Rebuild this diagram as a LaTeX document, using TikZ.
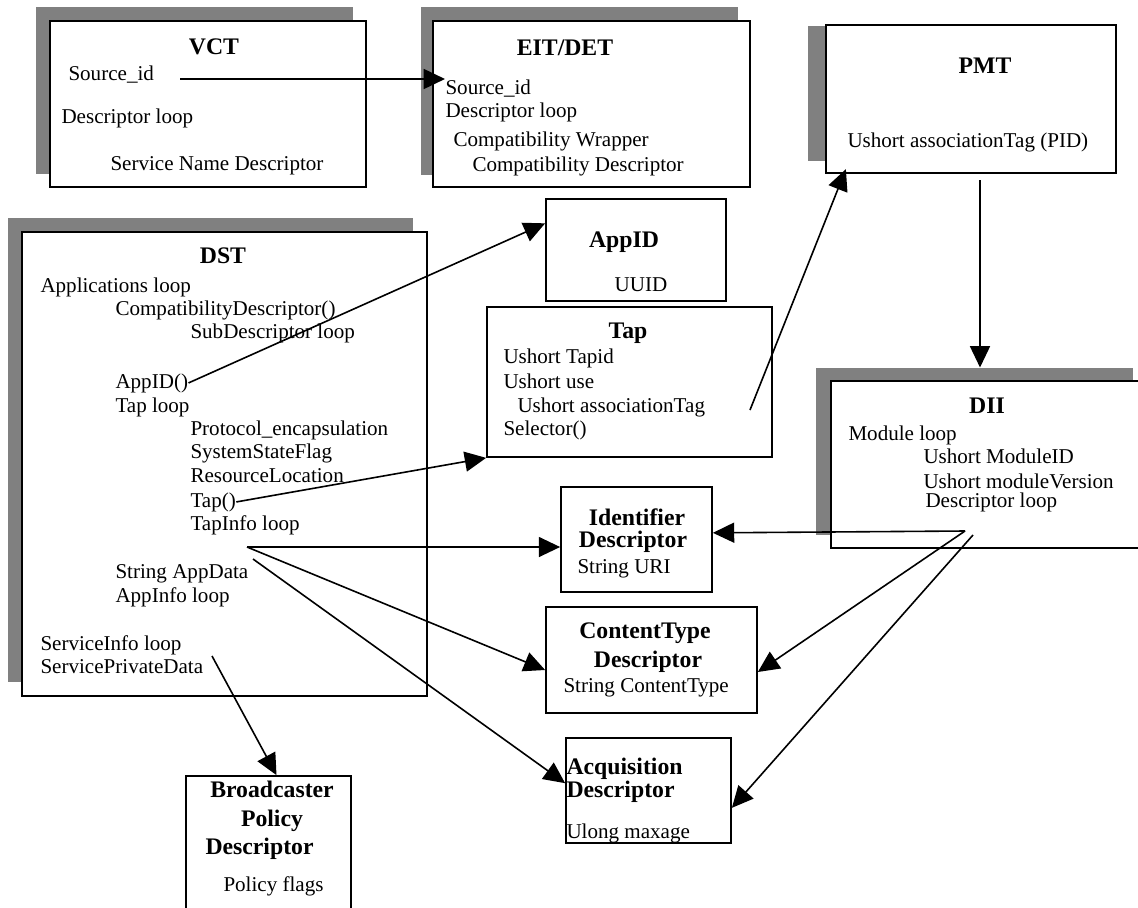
\documentclass[tikz,border=0pt]{standalone}
\usepackage{fontspec}
\setmainfont{Liberation Serif}
\usetikzlibrary{arrows.meta,fit}

\newcommand{\tblfont}{\fontsize{15.8}{18}\selectfont}
\newcommand{\hdfont}{\fontsize{17.8}{20}\selectfont\bfseries}
\tikzset{every picture/.style={line width=0.75pt}}
\tikzset{
  tblbox/.style={draw, line width=2.2pt, fill=white, inner sep=0pt},
  subbox/.style={draw, line width=1.3pt, fill=white, inner sep=0pt},
  shadowbox/.style={fill=black!50, inner sep=0pt},
  txt/.style={anchor=base west, inner sep=0pt, font=\tblfont},
  boldtxt/.style={txt, font=\hdfont},
  ctr/.style={anchor=base, inner sep=0pt, font=\tblfont},
  ttl/.style={ctr, font=\hdfont},
  link/.style={line width=1.2pt, -{Triangle[length=16pt,width=15pt]}}
}

\begin{document}
\begin{tikzpicture}[x=0.75pt,y=0.75pt,yscale=-1,xscale=1]
\useasboundingbox (0,0) rectangle (1138,907);

%Shadows
\node[shadowbox, fit={(36,7) (353,174)}] (vctsh) {};
\node[shadowbox, fit={(421,7) (738,175)}] (eitsh) {};
\node[shadowbox, fit={(808,26) (1100,161)}] (pmtsh) {};
\node[shadowbox, fit={(8,218) (413,682)}] (dstsh) {};
\node[shadowbox, fit={(816,368) (1133,535)}] (diish) {};

%Tables
\node[tblbox, fit={(50,21) (366,187)}] (vct) {};
\node[tblbox, fit={(433,21) (750,187)}] (eit) {};
\node[tblbox, fit={(826,25) (1116,173)}] (pmt) {};
\node[tblbox, fit={(22,232) (427,696)}] (dst) {};
\node[tblbox, fit={(831,381) (1145,548)}] (dii) {};

%Structures
\node[subbox, fit={(546,199) (726,301)}] (appid) {};
\node[subbox, fit={(487,307) (772,457)}] (tap) {};
\node[subbox, fit={(561,487) (712,592)}] (idd) {};
\node[subbox, fit={(546,607) (757,713)}] (ctd) {};
\node[subbox, fit={(566,738) (731,843)}] (acq) {};
\node[subbox, fit={(186,776) (351,920)}] (bpd) {};

% VCT
\node[ttl] (vcttitle) at (214,54) {VCT};
\node[txt] (vctsrc) at (68,80) {Source\_id};
\node[txt] (vctloop) at (61,123) {Descriptor loop};
\node[txt] (vctsnd) at (110,170) {Service Name Descriptor};

% EIT/DET
\node[ttl] (eittitle) at (565,55) {EIT/DET};
\node[txt] (eitsrc) at (445,94) {Source\_id};
\node[txt] (eitloop) at (445,117) {Descriptor loop};
\node[txt] (eitwrap) at (453,146) {Compatibility Wrapper};
\node[txt] (eitcd) at (472,171) {Compatibility Descriptor};

% PMT
\node[ttl] (pmttitle) at (985,73) {PMT};
\node[txt] (pmttag) at (847,147) {Ushort associationTag (PID)};

% AppID
\node[ttl] (appidtitle) at (624,247) {AppID};
\node[ctr] (uuid) at (641,291) {UUID};

% Tap
\node[ttl] (taptitle) at (628,338) {Tap};
\node[txt] (tapid) at (503,363) {Ushort Tapid};
\node[txt] (tapuse) at (503,388) {Ushort use};
\node[txt] (taptag) at (517,412) {Ushort associationTag};
\node[txt] (tapsel) at (503,435) {Selector()};

% DII
\node[ttl] (diititle) at (987,413) {DII};
\node[txt] (diimod) at (848,440) {Module loop};
\node[txt] (diiid) at (923,463) {Ushort ModuleID};
\node[txt] (diiver) at (923,488) {Ushort moduleVersion};
\node[txt] (diiloop) at (925,507) {Descriptor loop};

% DST
\node[ttl] (dsttitle) at (223,263) {DST};
\node[txt] (dstapps) at (40,292) {Applications loop};
\node[txt] (dstcompat) at (115,315) {CompatibilityDescriptor()};
\node[txt] (dstsub) at (190,338) {SubDescriptor loop};
\node[txt] (dstappid) at (115,388) {AppID()};
\node[txt] (dsttaploop) at (115,412) {Tap loop};
\node[txt] (dstproto) at (190,435) {Protocol\_encapsulation};
\node[txt] (dstflag) at (190,458) {SystemStateFlag};
\node[txt] (dstres) at (190,482) {ResourceLocation};
\node[txt] (dsttap) at (190,507) {Tap()};
\node[txt] (dsttapinfo) at (190,530) {TapInfo loop};
\node[txt] (dstappdata) at (115,578) {String AppData};
\node[txt] (dstappinfo) at (115,602) {AppInfo loop};
\node[txt] (dstsvcinfo) at (40,650) {ServiceInfo loop};
\node[txt] (dstspd) at (40,673) {ServicePrivateData};

% Identifier Descriptor
\node[ttl] (iddtitle) at (637,525) {Identifier};
\node[ttl] (iddtitleb) at (633,547) {Descriptor};
\node[txt] (iddstr) at (577,573) {String URI};

% ContentType Descriptor
\node[ttl] (ctdtitle) at (645,638) {ContentType};
\node[ttl] (ctdtitleb) at (648,667) {Descriptor};
\node[txt] (ctdstr) at (563,692) {String ContentType};

% Acquisition Descriptor
\node[boldtxt] (acqtitle) at (566,774) {Acquisition};
\node[boldtxt] (acqtitleb) at (566,797) {Descriptor};
\node[txt] (acqage) at (566,838) {Ulong maxage};

% Broadcaster Policy Descriptor
\node[ttl] (bpdtitle) at (272,797) {Broadcaster};
\node[ttl] (bpdtitleb) at (272,826) {Policy};
\node[boldtxt] (bpdtitlec) at (205,854) {Descriptor};
\node[txt] (bpdflags) at (223,891) {Policy flags};

%Links
\coordinate (srcout) at (180,79);
\coordinate (tagout) at (750,410);
\coordinate (pmtout) at (980,180);
\coordinate (tapfan) at (247,547);
\coordinate (acqfan) at (253,559);
\coordinate (spdout) at (212,656);
\coordinate (diiout) at (965,531);
\coordinate (diioutb) at (973,535);

\draw[link] (srcout) -- (srcout -| eitsrc.west);
\draw[link] (dstappid.east) -- ([yshift=-20pt]appid.west);
\draw[link] (dsttap.east) -- (tap.south west);
\draw[link] (tagout) -- ([xshift=16pt,yshift=-4pt]pmt.south west);
\draw[link] (pmtout) -- (pmtout |- diish.north);
\draw[link] (tapfan) -- (tapfan -| idd.west);
\draw[link] (tapfan) -- ([yshift=7.5pt]ctd.west);
\draw[link] (acqfan) -- ([yshift=-5.5pt]acq.west);
\draw[link] (spdout) -- ([xshift=6pt]bpd.north);
\draw[link] (diiout) -- ([yshift=-5pt]idd.east);
\draw[link] (diiout) -- ([yshift=9pt]ctd.east);
\draw[link] (diioutb) -- ([yshift=13pt]acq.east);

\end{tikzpicture}
\end{document}
